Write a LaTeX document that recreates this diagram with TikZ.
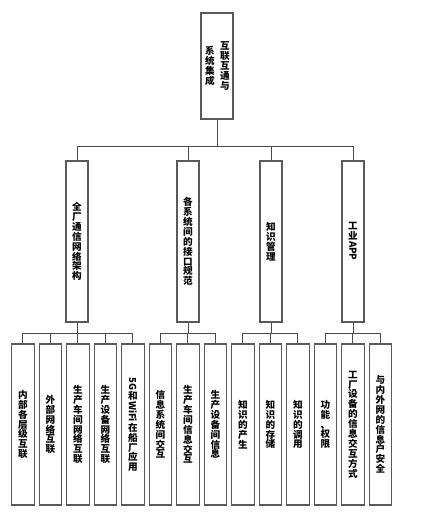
\documentclass[tikz,border=0pt]{standalone}
\usepackage{fontspec}
\usepackage{graphicx}
\usepackage{tikz}
\newfontfamily\cjk{Noto Sans CJK SC}
\definecolor{lnG}{HTML}{4A4A4A}
\definecolor{bxG}{HTML}{5A5A5A}
\newcommand\side[1]{\rotatebox[origin=c]{-90}{#1}}

\begin{document}
\begin{tikzpicture}[x=1pt, y=-1pt,
  vt/.style={font=\cjk\bfseries\fontsize{9.6}{9.9}\selectfont, align=center, inner sep=0pt},
  box/.style={draw=bxG, line width=1.1pt, fill=white, inner sep=0pt},
  mid/.style={box, vt, minimum width=22pt, minimum height=161pt},
  leaf/.style={box, vt, minimum width=22.5pt, minimum height=161pt},
  link/.style={draw=lnG, line width=0.9pt},
  ]
\useasboundingbox (0,0) rectangle (421,516);

% === root
\node[box, minimum width=32pt, minimum height=106pt] (top) at (217,66) {};
\node[vt] (topR) at (225,66) {互\\联\\互\\通\\与};
\node[vt] (topL) at (210,66) {系\\统\\集\\成};

% === second level
\node[mid] (l2a) at (77,241.5)  {全\\厂\\通\\信\\网\\络\\架\\构};
\node[mid] (l2b) at (188,241.5) {各\\系\\统\\间\\的\\接\\口\\规\\范};
\node[mid] (l2c) at (271,241.5) {知\\识\\管\\理};
\node[mid] (l2d) at (353,241.5) {工\\业\\\side{APP}};

% === leaves
\foreach \t [count=\i from 0] in {
  {内\\部\\各\\层\\级\\互\\联},
  {外\\部\\网\\络\\互\\联},
  {生\\产\\车\\间\\网\\络\\互\\联},
  {生\\产\\设\\备\\网\\络\\互\\联},
  {\side{5G}\\和\\\side{WiFi}\\在\\船\\厂\\应\\用},
  {信\\息\\系\\统\\间\\交\\互},
  {生\\产\\车\\间\\信\\息\\交\\互},
  {生\\产\\设\\备\\间\\信\\息},
  {知\\识\\的\\产\\生},
  {知\\识\\的\\存\\储},
  {知\\识\\的\\调\\用},
  {功\\能\\、\\权\\限},
  {工\\厂\\设\\备\\的\\信\\息\\交\\互\\方\\式},
  {与\\内\\外\\网\\的\\信\\息\\户\\安\\全}}
  {\node[leaf] (c\i) at ({22.8+27.5*\i},424.5) {\t};}

% === connectors
\foreach \c in {l2a,l2b,l2c,l2d} {\draw[link] (top.south) -- ++(0,27) -| (\c.north);}
\foreach \c in {0,...,4} {\draw[link] (l2a.south) -- ++(0,11) -| (c\c.north);}
\foreach \c in {5,6,7} {\draw[link] (l2b.south) -- ++(0,11) -| (c\c.north);}
\foreach \c in {8,9,10} {\draw[link] (l2c.south) -- ++(0,11) -| (c\c.north);}
\foreach \c in {11,12,13} {\draw[link] (l2d.south) -- ++(0,11) -| (c\c.north);}

\end{tikzpicture}
\end{document}
